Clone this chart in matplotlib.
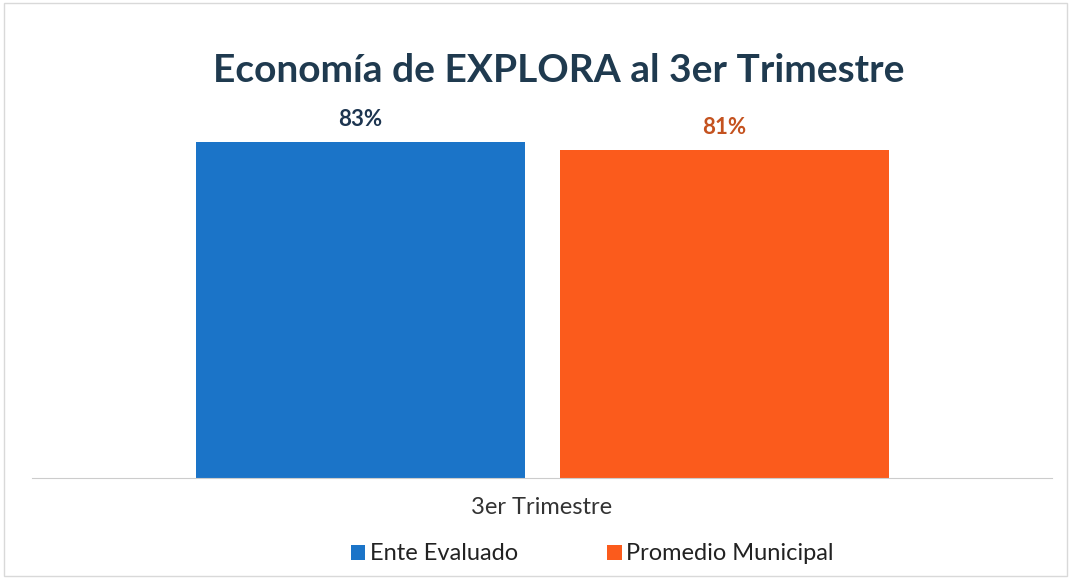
import matplotlib.pyplot as plt
from matplotlib.patches import Rectangle

# data
categoria = "3er Trimestre"
series = ["Ente Evaluado", "Promedio Municipal"]
valores = [83, 81]
colores = ["#1b74c8", "#fb5b1c"]
colores_etiqueta = ["#1d3550", "#c4521f"]

plt.rcParams['font.family'] = ['Lato', 'DejaVu Sans']

fig = plt.figure(figsize=(10.71, 5.78), dpi=100)
ax = fig.add_axes([32 / 1071, 1 - 478 / 578, 1020 / 1071, 405 / 578])

ancho = 0.322
offsets = [-0.178, 0.179]
for i, (nombre, v) in enumerate(zip(series, valores)):
    ax.bar(offsets[i], v, width=ancho, color=colores[i], label=nombre)
    ax.text(offsets[i], v + 3, f"{v}%", ha='center', va='bottom',
            fontsize=16, fontweight='bold', color=colores_etiqueta[i])

ax.set_xlim(-0.5, 0.5)
ax.set_ylim(0, 100)
ax.set_yticks([])
ax.set_xticks([0])
ax.set_xticklabels([categoria], fontsize=17, color="#333333")
ax.tick_params(axis='x', length=0, pad=14)
for s in ['top', 'left', 'right']:
    ax.spines[s].set_visible(False)
ax.spines['bottom'].set_color("#cccccc")
ax.patch.set_alpha(0)

fig.text(559 / 1071, 1 - 70 / 578, "Economía de EXPLORA al 3er Trimestre",
         ha='center', va='center', fontsize=28, fontweight='bold', color="#1f3a4f")

leg = fig.legend(loc='center', bbox_to_anchor=(0.553, 1 - 554 / 578), ncol=2,
                 frameon=False, fontsize=17, handlelength=0.6, handleheight=0.6,
                 handletextpad=0.2, columnspacing=3.8)
for t in leg.get_texts():
    t.set_color("#222222")

fig.patches.append(Rectangle((0.004, 0.004), 0.992, 0.99, transform=fig.transFigure,
                             fill=False, edgecolor="#d9d9d9", linewidth=1))

fig.savefig("out.png", dpi=100)
